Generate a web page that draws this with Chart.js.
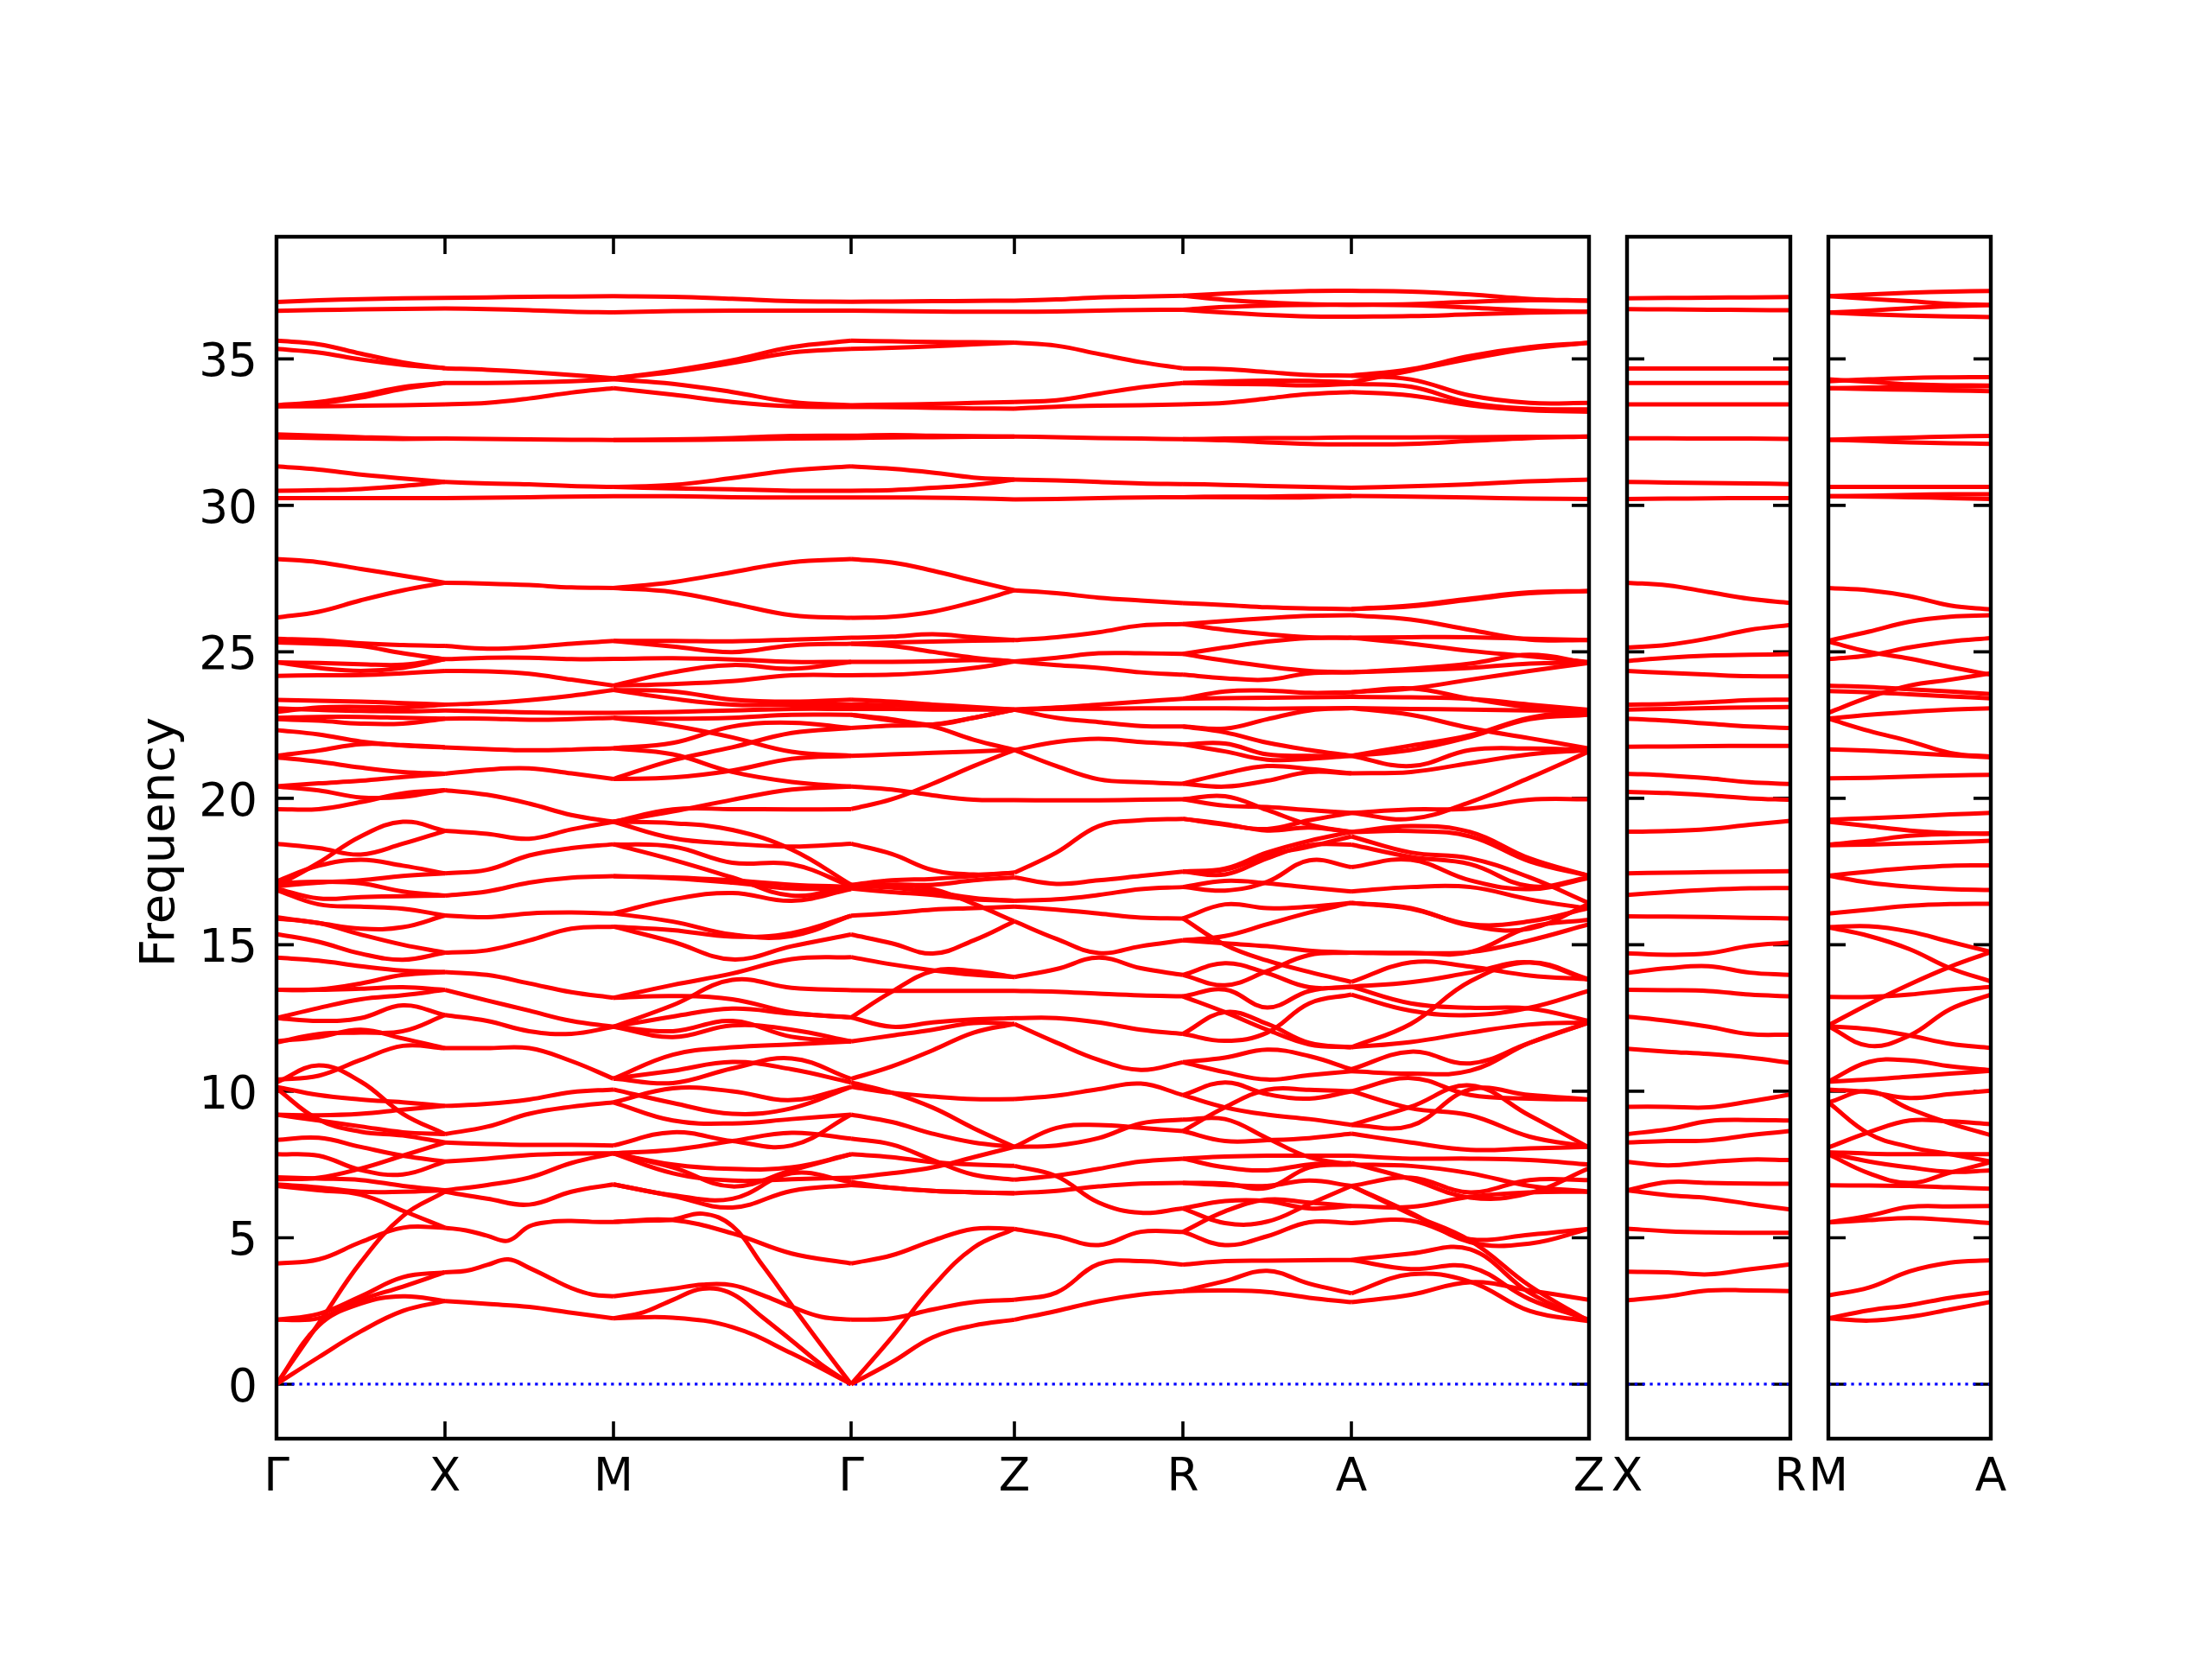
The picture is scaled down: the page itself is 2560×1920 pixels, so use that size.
<!DOCTYPE html>
<html>
<head>
<meta charset="utf-8">
<script src="https://cdn.jsdelivr.net/npm/chart.js@4"></script>
<style>
  html, body { margin: 0; padding: 0; background: #ffffff; }
  canvas { position: absolute; top: 0; }
</style>
</head>
<body>
<canvas id="mainPanel"></canvas>
<canvas id="xrPanel"></canvas>
<canvas id="maPanel"></canvas>
<script>
// ─── AXES DATA ───────────────────────────────────────────────────
const yTitle = 'Frequency';
const yTicks = [0, 5, 10, 15, 20, 25, 30, 35];
const mainStops = [0, 195, 390, 665, 854, 1049, 1244, 1519];   // path distance of each high-symmetry point
const mainLabels = ['Γ', 'X', 'M', 'Γ', 'Z', 'R', 'A', 'Z'];
const xrStops = [0, 189];
const xrLabels = ['X', 'R'];
const maStops = [0, 188];
const maLabels = ['M', 'A'];
const zeroLine = [0, 0];

// ─── BANDS, ONE LIST PER PATH SEGMENT ────────────────────────────
// Each row is one curve, read off evenly along its segment
const gammaX = [
  [36.94,37.0,37.04,37.07,37.08], [36.64,36.67,36.69,36.71,36.72],
  [35.62,35.5,35.18,34.88,34.68], [35.34,35.22,34.98,34.8,34.68],
  [33.42,33.53,33.76,34.04,34.18], [33.38,33.48,33.68,33.98,34.18], [33.38,33.38,33.4,33.42,33.45],
  [32.42,32.38,32.33,32.29,32.28], [32.32,32.3,32.28,32.27,32.28],
  [31.33,31.22,31.05,30.92,30.8], [30.5,30.52,30.56,30.66,30.8], [30.25,30.25,30.25,30.25,30.25],
  [28.17,28.06,27.83,27.6,27.36], [26.17,26.37,26.76,27.1,27.36],
  [25.45,25.4,25.29,25.23,25.2], [25.32,25.28,25.2,24.95,24.75],
  [24.64,24.62,24.58,24.56,24.75], [24.64,24.45,24.35,24.45,24.75], [24.18,24.2,24.21,24.27,24.35],
  [23.36,23.33,23.3,23.25,23.2], [22.95,23.1,23.12,23.1,23.2], [23.07,23.02,22.98,22.97,23.0],
  [22.75,22.78,22.78,22.75,22.72], [22.7,22.65,22.55,22.55,22.72],
  [22.33,22.18,21.94,21.8,21.74], [21.45,21.63,21.85,21.82,21.74], [21.4,21.25,21.05,20.9,20.84],
  [20.41,20.51,20.6,20.73,20.84], [20.4,20.27,20.03,20.05,20.28], [19.63,19.63,19.87,20.17,20.28],
  [18.45,18.3,18.08,18.45,18.89], [17.0,17.8,18.7,19.2,18.89], [17.17,17.7,17.9,17.7,17.44],
  [17.0,17.12,17.2,17.35,17.44], [17.1,17.15,17.1,16.82,16.68], [16.92,16.58,16.63,16.66,16.68],
  [16.87,16.38,16.3,16.23,16.0], [15.94,15.74,15.55,15.6,16.0], [15.9,15.74,15.35,15.0,14.73],
  [15.37,15.1,14.7,14.49,14.73], [14.56,14.46,14.27,14.12,14.07], [13.46,13.48,13.68,13.97,14.07],
  [13.46,13.46,13.5,13.55,13.46], [12.5,12.84,13.14,13.28,13.46], [12.5,12.4,12.5,12.93,12.6],
  [11.71,11.85,12.1,11.8,11.47], [11.67,11.95,12.0,12.05,12.6],
  [10.3,10.88,10.33,9.23,8.54], [10.4,10.53,11.07,11.55,11.47],
  [10.15,9.87,9.72,9.62,9.5], [9.2,9.18,9.23,9.37,9.5], [10.1,9.03,8.62,8.49,8.25], [9.2,9.0,8.8,8.6,8.54],
  [8.34,8.41,8.1,7.8,7.6], [7.85,7.8,7.31,7.16,7.6], [7.0,7.05,7.36,7.8,8.25],
  [7.06,7.02,6.97,6.77,6.62], [6.82,6.72,6.57,6.57,6.62], [6.77,6.62,6.47,5.92,5.34],
  [0,2.07,4.16,5.74,6.57], [4.12,4.26,4.85,5.34,5.34],
  [2.2,2.25,2.88,3.33,3.82], [2.2,2.4,3.0,3.65,3.82], [0,2.0,2.75,3.0,2.84], [0,0.92,1.8,2.5,2.84]
];
const xM = [
  [37.08,37.1,37.12,37.13,37.14], [36.72,36.7,36.66,36.61,36.59],
  [34.68,34.63,34.55,34.45,34.34], [34.18,34.18,34.2,34.24,34.3], [33.45,33.5,33.65,33.85,34.0],
  [32.28,32.27,32.25,32.24,32.23], [30.8,30.75,30.72,30.66,30.63], [30.25,30.26,30.28,30.3,30.31],
  [27.36,27.33,27.28,27.2,27.18],
  [25.2,25.11,25.16,25.28,25.37], [24.75,24.8,24.8,24.75,24.76], [24.35,24.33,24.25,24.05,23.85],
  [23.2,23.25,23.35,23.5,23.7], [23.0,22.97,22.93,22.92,22.92], [22.72,22.72,22.68,22.7,22.75],
  [21.74,21.68,21.64,21.66,21.71], [20.84,20.98,21.02,20.85,20.66],
  [20.28,20.12,19.82,19.43,19.2], [18.89,18.79,18.62,18.94,19.2], [17.44,17.56,18.05,18.3,18.43],
  [16.68,16.82,17.12,17.29,17.34], [16.0,15.94,16.07,16.1,16.07], [14.73,14.81,15.15,15.55,15.62],
  [14.07,13.97,13.68,13.38,13.19], [13.46,13.1,12.75,12.4,12.2], [12.6,12.4,12.05,11.96,12.2],
  [11.47,11.47,11.47,11.03,10.43],
  [9.5,9.57,9.72,9.97,10.06], [8.54,8.79,9.23,9.47,9.62], [8.25,8.2,8.17,8.17,8.15],
  [7.6,7.7,7.82,7.87,7.88], [6.62,6.8,7.05,7.55,7.88], [6.57,6.33,6.13,6.57,6.82],
  [5.34,5.25,5.07,4.9,5.39,5.54,5.57,5.54,5.54], [3.82,3.87,4.07,4.26,3.97,3.62,3.28,3.06,3.0],
  [2.84,2.74,2.64,2.44,2.25]
];
const mGamma = [
  [37.14,37.12,37.05,36.97,36.95], [36.59,36.63,36.65,36.65,36.65],
  [34.34,34.6,34.95,35.4,35.62], [34.34,34.55,34.86,35.22,35.34], [34.3,34.15,33.87,33.53,33.42],
  [34.0,33.78,33.53,33.38,33.36], [32.23,32.25,32.3,32.37,32.38], [32.23,32.23,32.25,32.28,32.3],
  [30.63,30.7,30.93,31.2,31.33], [30.63,30.58,30.55,30.5,30.5], [30.31,30.31,30.28,30.27,30.27],
  [27.18,27.38,27.72,28.06,28.17], [27.18,27.04,26.65,26.25,26.16],
  [25.37,25.37,25.36,25.42,25.48], [25.37,25.18,24.99,25.22,25.28], [24.76,24.78,24.74,24.66,24.66],
  [23.85,24.3,24.55,24.42,24.66], [23.85,23.9,24.0,24.2,24.2],
  [23.7,23.65,23.37,23.3,23.37], [23.7,23.4,23.2,23.2,23.2],
  [22.92,22.95,23.0,23.05,23.05], [22.75,22.72,22.75,22.85,22.85], [22.75,22.48,22.08,21.59,21.45],
  [21.71,21.89,22.45,22.58,22.4], [21.71,21.5,20.9,20.56,20.4], [20.66,21.3,21.74,22.23,22.4],
  [20.66,20.71,20.95,21.35,21.45], [19.2,19.55,19.95,20.3,20.4], [19.2,19.62,19.63,19.62,19.63],
  [19.2,19.15,18.92,18.25,17.05], [19.2,18.64,18.45,18.35,18.45], [18.43,18.35,17.8,17.75,17.0],
  [18.43,17.9,17.3,16.68,17.0], [17.34,17.3,17.2,17.05,16.98], [17.34,17.27,17.12,16.92,16.92],
  [16.07,16.55,16.77,16.5,16.9], [16.07,15.79,15.35,15.3,15.99], [15.62,15.5,15.28,15.4,15.99],
  [15.62,15.1,14.5,14.95,15.35], [13.19,13.63,14.02,14.51,14.58], [12.2,12.94,13.8,13.53,13.45],
  [13.19,13.25,13.14,12.69,12.52], [12.2,12.55,12.82,12.65,12.52], [12.2,11.85,12.25,12.1,11.7],
  [12.2,12.05,12.4,11.86,11.7], [10.43,11.25,11.5,11.6,11.7], [10.43,10.28,10.78,11.12,10.42],
  [10.43,10.7,11.0,10.75,10.3], [10.06,9.6,9.23,9.42,10.15], [9.62,10.1,10.0,9.7,10.15],
  [9.62,9.0,8.9,9.05,9.2], [8.15,8.6,8.3,8.15,9.2], [7.88,8.0,8.3,8.58,8.38],
  [7.88,7.4,6.75,7.3,7.85], [7.88,7.5,7.35,7.4,7.85], [7.88,7.2,6.95,7.0,7.05],
  [6.82,6.45,6.33,7.2,6.9], [6.82,6.42,6.03,6.6,6.8],
  [5.54,5.58,5.62,5.82,5.4,4.08,2.7,1.33,0], [5.54,5.6,5.15,4.46,4.12],
  [3.0,3.13,3.26,3.4,3.38,3.05,2.64,2.3,2.2], [2.25,2.45,2.88,3.26,3.08,2.3,1.49,0.67,0],
  [2.25,2.27,1.95,1.05,0]
];
const gammaZ = [
  [36.95,36.96,36.97,36.98,36.99], [36.65,36.63,36.62,36.61,36.61],
  [35.62,35.6,35.58,35.57,35.56], [35.34,35.38,35.43,35.5,35.56],
  [33.42,33.44,33.46,33.5,33.53], [33.36,33.35,33.33,33.31,33.3],
  [32.38,32.4,32.38,32.36,32.35], [32.3,32.32,32.33,32.34,32.35],
  [31.33,31.25,31.12,30.95,30.88], [30.5,30.52,30.6,30.7,30.88], [30.27,30.27,30.26,30.24,30.2],
  [28.17,28.05,27.77,27.43,27.1], [26.16,26.2,26.37,26.7,27.1],
  [25.48,25.52,25.6,25.5,25.4], [25.28,25.32,25.35,25.38,25.4], [25.28,25.2,25.0,24.8,24.67],
  [24.66,24.66,24.68,24.72,24.67], [24.2,24.22,24.3,24.45,24.67],
  [23.37,23.3,23.2,23.12,23.03], [23.2,23.18,23.12,23.06,23.03], [23.05,23.05,23.03,23.03,23.03],
  [22.85,22.7,22.52,22.75,23.03], [22.4,22.48,22.52,22.75,23.03], [22.85,22.65,22.45,22.0,21.65],
  [21.45,21.5,21.55,21.6,21.65], [19.63,19.97,20.5,21.1,21.65], [20.4,20.3,20.1,19.95,19.94],
  [18.45,18.1,17.55,17.4,17.46], [17.05,17.2,17.25,17.35,17.46], [17.0,17.05,17.05,17.2,17.3],
  [17.0,16.95,16.8,16.6,16.5], [16.92,16.8,16.7,16.55,16.5], [15.99,16.08,16.2,16.25,16.3],
  [16.98,17.05,16.9,16.4,15.8], [15.35,15.05,14.7,15.15,15.8], [14.58,14.33,14.13,13.98,13.9],
  [12.52,13.4,14.1,14.1,13.9], [13.45,13.43,13.43,13.43,13.43], [12.52,12.2,12.35,12.45,12.5],
  [11.7,11.9,12.1,12.33,12.3], [10.42,10.85,11.4,12.0,12.3],
  [10.15,9.95,9.82,9.73,9.73], [10.3,9.95,9.44,8.74,8.1], [9.2,8.95,8.55,8.25,8.1],
  [8.38,8.18,7.65,7.15,6.98], [7.85,7.75,7.58,7.5,7.45], [7.05,7.2,7.4,7.75,8.1],
  [6.9,6.7,6.6,6.55,6.52], [6.8,6.7,6.6,6.55,6.52],
  [4.12,4.4,4.9,5.3,5.3], [2.2,2.25,2.55,2.8,2.88], [0,1.6,3.33,4.66,5.3], [0,0.75,1.6,2.0,2.2]
];
const zR = [
  [36.99,37.03,37.1,37.13,37.16], [36.61,36.62,36.65,36.67,36.68],
  [35.56,35.45,35.17,34.89,34.68], [33.53,33.59,33.81,34.03,34.18], [33.3,33.37,33.4,33.42,33.45],
  [32.35,32.33,32.3,32.28,32.26], [30.88,30.85,30.8,30.75,30.73], [30.2,30.22,30.25,30.27,30.28],
  [27.1,27.0,26.85,26.75,26.66], [25.4,25.5,25.67,25.9,25.95],
  [24.67,24.8,24.95,24.95,24.93], [24.67,24.55,24.45,24.3,24.22],
  [23.03,23.1,23.2,23.3,23.4], [23.03,23.05,23.06,23.07,23.07], [23.03,22.75,22.6,22.47,22.45],
  [21.65,21.92,22.03,21.92,21.84], [21.65,21.1,20.65,20.55,20.5], [19.94,19.93,19.93,19.95,19.97],
  [17.46,18.15,19.05,19.25,19.3], [17.3,17.08,17.2,17.35,17.5], [16.5,16.55,16.7,16.9,16.97],
  [16.3,16.2,16.07,15.93,15.9], [15.8,15.2,14.72,14.95,15.15], [13.9,14.17,14.56,14.2,13.97],
  [13.43,13.4,13.33,13.27,13.24], [12.5,12.5,12.35,12.1,11.96], [12.3,11.66,11.07,10.73,10.99],
  [9.73,9.85,10.07,10.26,9.87], [8.1,8.75,8.85,8.75,8.64], [8.1,8.15,8.4,8.9,9.03],
  [6.98,7.12,7.35,7.6,7.7], [7.45,7.1,6.2,5.85,6.0], [6.52,6.6,6.75,6.85,6.87],
  [5.3,5.05,4.75,5.2,5.2], [2.88,3.13,4.1,4.2,4.08], [2.2,2.5,2.83,3.06,3.18]
];
const rA = [
  [37.16,37.23,37.28,37.32,37.33], [37.16,37.02,36.93,36.87,36.85],
  [36.68,36.77,36.82,36.84,36.85], [36.68,36.58,36.5,36.45,36.44],
  [34.68,34.65,34.55,34.45,34.43], [34.18,34.23,34.26,34.25,34.2], [34.18,34.15,34.13,34.1,34.15],
  [33.45,33.5,33.65,33.8,33.87], [32.26,32.28,32.3,32.3,32.32], [32.26,32.22,32.15,32.1,32.08],
  [30.73,30.7,30.66,30.63,30.6], [30.28,30.3,30.3,30.32,30.32], [30.28,30.28,30.27,30.28,30.32],
  [26.66,26.6,26.52,26.48,26.46], [25.95,26.05,26.15,26.23,26.25], [25.95,25.75,25.6,25.5,25.48],
  [24.93,25.15,25.35,25.47,25.48], [24.93,24.7,24.5,24.35,24.3], [24.22,24.1,24.05,24.27,24.3],
  [23.4,23.65,23.68,23.6,23.62], [23.4,23.42,23.43,23.45,23.46], [23.07,23.07,23.06,23.07,23.08],
  [22.45,22.38,22.7,23.0,23.08], [21.84,21.87,21.5,21.45,21.45], [21.84,21.6,21.32,21.35,21.45],
  [22.45,22.25,21.9,21.65,21.45], [20.5,20.85,21.1,21.0,20.85], [20.5,20.4,20.6,20.9,20.85],
  [19.97,20.07,19.6,19.1,18.85], [19.97,19.75,19.7,19.6,19.5], [19.3,19.12,18.9,19.0,18.85],
  [19.3,19.1,18.95,19.25,19.5], [17.5,17.56,18.05,18.35,18.7], [17.5,17.6,18.15,18.55,18.85],
  [17.5,17.4,17.95,18.4,18.42], [16.97,16.85,17.15,17.88,17.65], [16.97,17.18,17.1,16.95,16.82],
  [15.9,16.38,16.25,16.3,16.43], [15.15,15.3,15.7,16.1,16.43], [15.9,15.0,14.46,14.07,13.73],
  [15.15,15.05,14.95,14.8,14.73], [13.97,14.37,14.03,13.55,13.57], [13.97,13.62,14.1,14.65,14.73],
  [13.24,13.47,12.86,13.42,13.57], [13.24,12.7,12.1,11.6,11.5], [11.96,11.72,12.0,13.0,13.3],
  [11.96,12.7,12.3,11.65,11.5], [10.99,11.15,11.42,11.2,10.75], [10.99,10.65,10.4,10.55,10.68],
  [9.87,10.3,9.9,9.75,10.0], [9.87,9.45,9.2,9.05,8.85], [9.03,9.05,8.4,7.75,7.5],
  [8.64,8.3,8.33,8.4,8.55], [8.64,9.45,10.05,10.05,10.0], [7.7,7.77,7.8,7.8,7.8],
  [7.7,7.4,7.3,7.5,7.55], [6.87,6.8,6.77,6.95,6.77], [6.87,6.85,6.7,7.4,7.5],
  [6.0,6.25,6.25,6.0,6.08], [6.0,5.5,5.55,6.15,6.77], [5.2,5.9,6.3,6.2,6.08],
  [5.2,4.75,5.05,5.53,5.5], [4.08,4.2,4.22,4.23,4.24], [3.18,3.52,3.87,3.43,3.1], [3.18,3.2,3.15,2.95,2.8]
];
const aZ = [
  [37.33,37.3,37.2,37.05,36.99], [36.85,36.87,36.95,37.0,36.99],
  [36.85,36.83,36.75,36.65,36.61], [36.44,36.46,36.52,36.58,36.61],
  [34.43,34.65,35.1,35.4,35.55], [34.2,34.6,35.0,35.35,35.55], [34.43,34.3,33.75,33.5,33.5],
  [33.87,33.75,33.42,33.25,33.2], [34.15,34.05,33.5,33.3,33.28],
  [32.32,32.32,32.33,32.34,32.35], [32.08,32.1,32.2,32.3,32.35],
  [30.6,30.65,30.72,30.82,30.88], [30.32,30.3,30.27,30.23,30.22],
  [26.46,26.55,26.78,27.0,27.08], [26.46,26.58,26.82,27.03,27.08], [26.25,26.1,25.75,25.42,25.4],
  [25.48,25.5,25.5,25.45,25.4], [25.48,25.28,25.03,24.85,24.65], [24.3,24.42,24.6,24.9,24.62],
  [24.3,24.37,24.45,24.6,24.62], [23.62,23.75,24.05,24.35,24.62],
  [23.62,23.75,23.4,23.1,22.92], [23.46,23.45,23.4,23.2,23.02], [23.08,23.05,23.03,23.0,23.0],
  [23.08,22.85,22.4,22.05,21.7], [21.45,21.8,22.15,22.75,23.0], [21.45,21.65,22.1,22.7,22.85],
  [21.45,21.1,21.65,21.7,21.65], [20.85,20.9,21.2,21.5,21.65], [19.5,19.3,19.87,20.7,21.6],
  [19.5,19.62,19.65,19.95,19.97], [18.85,19.05,18.85,17.95,17.35], [18.85,18.88,18.7,17.85,17.35],
  [18.7,18.15,17.95,17.3,16.42], [18.42,18.0,17.75,17.0,17.3], [17.65,17.9,17.2,16.9,17.28],
  [16.82,16.97,16.97,16.55,16.23], [16.43,16.23,15.7,15.8,16.25], [16.43,16.25,15.65,15.55,16.4],
  [14.73,14.72,14.75,15.6,15.85], [14.73,14.72,14.75,15.15,15.7], [13.73,14.4,14.25,13.95,13.82],
  [13.57,13.72,14.05,14.4,13.8], [13.57,13.0,12.85,12.82,12.4], [13.3,12.75,12.6,12.85,13.43],
  [11.5,12.3,13.75,14.4,13.82], [11.5,11.68,12.0,12.28,12.35], [10.75,11.35,10.95,11.65,12.35],
  [10.68,10.6,10.7,11.65,12.35],
  [10.0,10.45,9.87,9.75,9.72], [8.85,8.82,10.06,9.87,9.72], [8.85,9.47,10.2,9.17,8.08],
  [8.55,8.25,8.0,8.05,8.1], [10.0,9.42,9.18,8.45,8.1], [7.8,7.7,7.7,7.65,7.5], [7.5,7.45,7.2,6.77,6.57],
  [7.55,7.0,6.37,6.52,7.37], [6.77,7.05,6.55,6.97,6.97], [6.77,5.8,4.9,3.36,2.15], [6.77,5.85,4.85,4.8,5.3],
  [6.08,6.05,6.4,6.55,6.57], [5.5,5.58,4.95,5.1,5.3], [4.24,4.46,4.6,3.12,2.15], [4.24,3.93,4.0,2.9,2.2],
  [3.1,3.75,3.5,2.5,2.15], [2.8,3.05,3.48,3.2,2.88]
];
const xR = [
  [37.07,37.08,37.09,37.1,37.11], [36.7,36.69,36.68,36.67,36.66], [34.67,34.67,34.67,34.67,34.67],
  [34.18,34.18,34.18,34.18,34.18], [33.45,33.45,33.45,33.45,33.45], [32.29,32.29,32.28,32.28,32.27],
  [30.8,30.78,30.76,30.75,30.73], [30.22,30.23,30.24,30.25,30.25],
  [27.36,27.27,27.04,26.81,26.67], [25.15,25.24,25.46,25.75,25.92], [24.69,24.8,24.87,24.9,24.92],
  [24.35,24.28,24.22,24.17,24.16], [23.2,23.22,23.28,23.35,23.37], [23.03,23.05,23.08,23.1,23.12],
  [22.72,22.65,22.55,22.45,22.4], [21.76,21.77,21.78,21.79,21.79], [20.84,20.78,20.68,20.55,20.49],
  [20.22,20.18,20.1,20.0,19.95], [18.86,18.88,18.95,19.1,19.23], [17.44,17.46,17.48,17.5,17.51],
  [16.7,16.8,16.88,16.93,16.94], [15.97,15.96,15.95,15.92,15.9], [14.71,14.66,14.71,14.96,15.08],
  [14.04,14.2,14.27,14.05,13.97], [13.46,13.45,13.42,13.3,13.24], [12.55,12.4,12.2,11.95,11.93],
  [11.45,11.35,11.27,11.15,10.97], [9.47,9.47,9.45,9.65,9.89], [8.54,8.7,8.98,9.02,9.0],
  [8.25,8.3,8.32,8.5,8.64], [7.59,7.47,7.58,7.67,7.65], [6.62,6.9,6.87,6.85,6.84],
  [6.62,6.45,6.35,6.15,5.96], [5.31,5.22,5.18,5.17,5.17], [3.84,3.82,3.75,3.92,4.09], [2.86,3.0,3.2,3.2,3.18]
];
const mA = [
  [37.14,37.2,37.26,37.3,37.32], [37.14,37.05,36.97,36.88,36.84], [36.58,36.65,36.73,36.8,36.84],
  [36.58,36.52,36.48,36.45,36.43], [34.24,34.3,34.35,34.37,34.38], [34.3,34.22,34.13,34.1,34.09],
  [34.0,34.02,34.03,34.05,34.07], [34.0,33.97,33.95,33.92,33.9], [32.24,32.28,32.31,32.35,32.37],
  [32.24,32.2,32.15,32.12,32.1], [30.63,30.63,30.63,30.63,30.63], [30.31,30.33,30.36,30.38,30.38],
  [30.31,30.3,30.28,30.25,30.22], [27.18,27.1,26.9,26.58,26.45], [25.38,25.69,26.03,26.2,26.25],
  [25.35,25.0,24.77,24.48,24.22], [24.75,24.88,25.15,25.35,25.47], [22.92,23.45,23.85,24.05,24.27],
  [23.85,23.8,23.72,23.65,23.56], [23.66,23.62,23.55,23.48,23.41], [22.72,22.85,22.95,23.03,23.07],
  [22.72,22.3,21.95,21.55,21.42], [21.67,21.63,21.55,21.47,21.4], [20.68,20.7,20.74,20.78,20.8],
  [19.27,19.32,19.38,19.45,19.5], [19.2,19.05,18.9,18.82,18.79], [18.42,18.55,18.72,18.78,18.8],
  [18.4,18.42,18.46,18.5,18.55], [17.36,17.5,17.62,17.7,17.71], [17.36,17.12,16.98,16.9,16.87],
  [16.07,16.2,16.33,16.39,16.4], [15.6,15.63,15.45,15.1,14.76], [15.6,15.3,14.85,14.2,13.75],
  [13.22,13.22,13.3,13.45,13.56], [12.25,12.98,13.65,14.25,14.75], [12.22,12.12,11.9,11.62,11.48],
  [12.22,11.55,11.9,12.8,13.3], [10.33,11.0,11.05,10.85,10.72], [10.33,10.4,10.5,10.6,10.7],
  [10.06,9.97,9.77,9.9,10.02], [9.62,10.0,9.4,8.9,8.5], [9.62,8.55,8.1,7.85,7.6], [8.08,8.6,9.0,8.97,8.88],
  [7.92,7.87,7.85,7.85,7.85], [7.9,7.6,7.4,7.25,7.3], [7.85,7.2,6.87,7.22,7.58], [6.79,6.78,6.77,6.72,6.67],
  [5.52,5.75,6.05,6.07,6.08], [5.52,5.6,5.67,5.6,5.5], [3.03,3.3,3.85,4.15,4.23], [2.25,2.52,2.7,2.95,3.13],
  [2.25,2.17,2.3,2.55,2.81]
];

// ─── DATASET HELPERS ─────────────────────────────────────────────
function segmentSets(rows, from, to) {
  return rows.map(row => ({
    data: row.map((y, i) => ({ x: from + (to - from) * i / (row.length - 1), y })),
    borderColor: '#ff0000',
    borderWidth: 5,
    pointRadius: 0,
    tension: 0.4,
    order: 0,
  }));
}

function zeroSet(end) {
  return {
    data: zeroLine.map((y, i) => ({ x: i * end, y })),
    borderColor: '#0000ff',
    borderWidth: 3.2,
    borderDash: [3.3, 5.5],
    pointRadius: 0,
    order: 1,
  };
}

// ─── FRAME AND INWARD TICKS ──────────────────────────────────────
const framePlugin = {
  id: 'frame',
  beforeDraw(chart) {
    // digits and the axis title sit a little low in the reference, nudge them once
    if (!chart.options.scales.y.display || chart.$nudged) return;
    chart.$nudged = true;
    const yScale = chart.scales.y;
    yScale.getLabelItems().forEach(item => { item.options.translation[1] += 6; });
    const drawTitle = yScale.drawTitle;
    yScale.drawTitle = function () {
      chart.ctx.save();
      chart.ctx.translate(0, 5);
      drawTitle.call(this);
      chart.ctx.restore();
    };
  },
  beforeDatasetsDraw(chart) {
    const { ctx, chartArea: a, scales: { x, y } } = chart;
    ctx.save();
    ctx.strokeStyle = '#000000';
    ctx.lineWidth = 3.6;
    ctx.beginPath();
    x.ticks.forEach(t => {
      const px = x.getPixelForValue(t.value);
      ctx.moveTo(px, a.top); ctx.lineTo(px, a.top + 20);
      ctx.moveTo(px, a.bottom); ctx.lineTo(px, a.bottom - 20);
    });
    yTicks.forEach(v => {
      const py = y.getPixelForValue(v);
      ctx.moveTo(a.left, py); ctx.lineTo(a.left + 20, py);
      ctx.moveTo(a.right, py); ctx.lineTo(a.right - 20, py);
    });
    ctx.stroke();
    ctx.restore();
  },
  afterDatasetsDraw(chart) {
    const { ctx, chartArea: a } = chart;
    ctx.save();
    ctx.strokeStyle = '#000000';
    ctx.lineWidth = 4.4;
    ctx.strokeRect(a.left, a.top, a.right - a.left, a.bottom - a.top);
    ctx.restore();
  },
};

// ─── PANEL BUILDER ───────────────────────────────────────────────
const tickFont = { family: "'DejaVu Sans'", size: 53.3 };

function makePanel(id, cfg) {
  const canvas = document.getElementById(id);
  canvas.style.left = cfg.left + 'px';
  canvas.style.width = cfg.width + 'px';
  canvas.style.height = '1920px';
  canvas.width = cfg.width;
  canvas.height = 1920;
  const stopEnd = cfg.stops[cfg.stops.length - 1];
  return new Chart(canvas, {
    type: 'line',
    data: { datasets: [...cfg.sets, zeroSet(stopEnd)] },
    plugins: [framePlugin],
    options: {
      responsive: false,
      animation: false,
      devicePixelRatio: 1,
      layout: { padding: cfg.padding },
      plugins: { legend: { display: false }, tooltip: { enabled: false } },
      scales: {
        x: {
          type: 'linear',
          min: 0,
          max: stopEnd,
          grid: { display: false, drawTicks: false },
          border: { display: false },
          afterBuildTicks: s => { s.ticks = cfg.stops.map(value => ({ value })); },
          afterFit: s => { s.height = 255; },
          ticks: {
            autoSkip: false,
            maxRotation: 0,
            minRotation: 0,
            padding: 14,
            color: '#000000',
            font: tickFont,
            callback: v => cfg.labels[cfg.stops.indexOf(v)],
          },
        },
        y: {
          type: 'linear',
          display: cfg.showY,
          min: -1.86,
          max: 39.17,
          grid: { display: false, drawTicks: false },
          border: { display: false },
          afterBuildTicks: s => { s.ticks = yTicks.map(value => ({ value })); },
          afterFit: s => { if (cfg.showY) s.width = 320; },
          title: {
            display: cfg.showY,
            text: yTitle,
            color: '#000000',
            font: { family: "'DejaVu Sans'", size: 56 },
            padding: { top: 153, bottom: 0 },
          },
          ticks: { padding: 22, color: '#000000', font: tickFont },
        },
      },
    },
  });
}

// ─── BOOT ────────────────────────────────────────────────────────
const s = mainStops;
makePanel('mainPanel', {
  left: 0, width: 1880, showY: true,
  padding: { top: 274, right: 41, left: 0, bottom: 0 },
  stops: mainStops, labels: mainLabels,
  sets: [
    ...segmentSets(gammaX, s[0], s[1]), ...segmentSets(xM, s[1], s[2]),
    ...segmentSets(mGamma, s[2], s[3]), ...segmentSets(gammaZ, s[3], s[4]),
    ...segmentSets(zR, s[4], s[5]), ...segmentSets(rA, s[5], s[6]), ...segmentSets(aZ, s[6], s[7]),
  ],
});
makePanel('xrPanel', {
  left: 1833, width: 289, showY: false,
  padding: { top: 274, right: 50, left: 50, bottom: 0 },
  stops: xrStops, labels: xrLabels,
  sets: segmentSets(xR, xrStops[0], xrStops[1]),
});
makePanel('maPanel', {
  left: 2066, width: 288, showY: false,
  padding: { top: 274, right: 50, left: 50, bottom: 0 },
  stops: maStops, labels: maLabels,
  sets: segmentSets(mA, maStops[0], maStops[1]),
});
</script>
</body>
</html>
